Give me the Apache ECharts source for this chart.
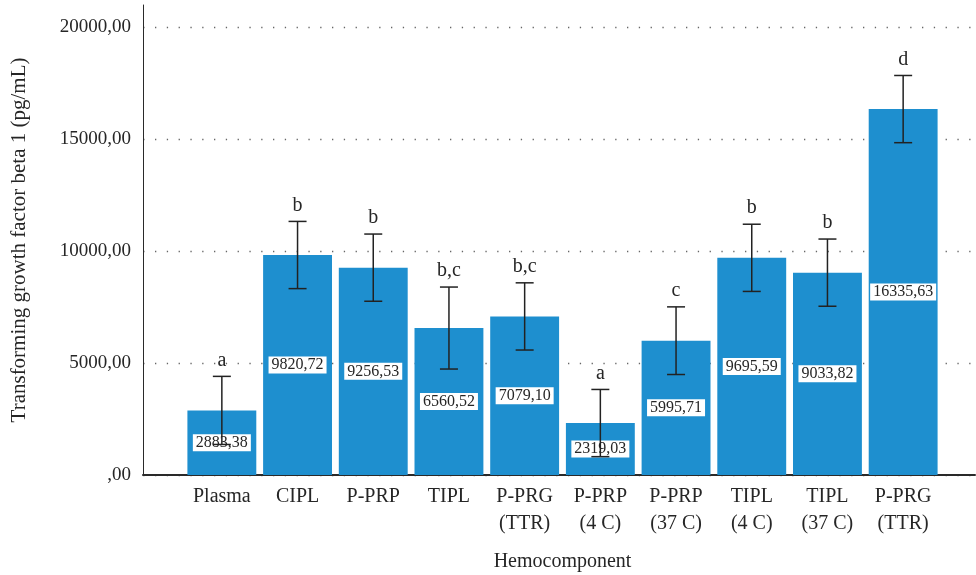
<!DOCTYPE html>
<html><head><meta charset="utf-8">
<script src="https://cdn.jsdelivr.net/npm/echarts@6/dist/echarts.min.js"></script>
<style>html,body{margin:0;padding:0;background:#fff}#c{width:976px;height:575px}</style>
</head><body><div id="c"></div>
<script>
const categories = ['Plasma','CIPL','P-PRP','TIPL','P-PRG\n(TTR)','P-PRP\n(4 C)','P-PRP\n(37 C)','TIPL\n(4 C)','TIPL\n(37 C)','P-PRG\n(TTR)'];
const means = [2883.38, 9820.72, 9256.53, 6560.52, 7079.10, 2319.03, 5995.71, 9695.59, 9033.82, 16335.63];
const errors = [1520, 1500, 1500, 1830, 1500, 1500, 1510, 1500, 1500, 1500];
const letters = ['a','b','b','b,c','b,c','a','c','b','b','d'];
const yMin = 0, yMax = 20000, yStep = 5000;

const FONT = '"Liberation Serif", "DejaVu Serif", serif';
const TXT = '#262626';
const fmt = v => v === 0 ? ',00' : v.toFixed(2).replace('.', ',');

const chart = echarts.init(document.getElementById('c'));
chart.setOption({
  animation: false,
  backgroundColor: '#fff',
  grid: [
    {left: 143, right: 1, top: 5, bottom: 100, outerBoundsMode: 'none', containLabel: false},
    {left: 143, right: 1, top: 27, bottom: 100, outerBoundsMode: 'none', containLabel: false},
    {left: 184, right: 35, top: 27, bottom: 100, outerBoundsMode: 'none', containLabel: false}
  ],
  xAxis: [
    {gridIndex: 0, type: 'value', min: 0, max: 1, axisLine: {show: true, onZero: false, lineStyle: {color: '#2a2a2a', width: 2}}, axisTick: {show: false}, axisLabel: {show: false}, splitLine: {show: false}},
    {gridIndex: 1, type: 'value', min: 0, max: 1, show: false},
    {gridIndex: 2, type: 'category', data: categories,
     axisLine: {show: false}, axisTick: {show: false},
     axisLabel: {fontFamily: FONT, fontSize: 20, color: TXT, lineHeight: 27, margin: 8, interval: 0},
     name: 'Hemocomponent', nameLocation: 'middle', nameGap: 77,
     nameTextStyle: {fontFamily: FONT, fontSize: 20, color: TXT}}
  ],
  yAxis: [
    {gridIndex: 0, type: 'value', min: 0, max: 1, axisLine: {show: true, lineStyle: {color: '#2a2a2a', width: 1}}, axisTick: {show: false}, axisLabel: {show: false}, splitLine: {show: false},
     name: 'Transforming growth factor beta 1 (pg/mL)', nameLocation: 'middle', nameGap: 113,
     nameTextStyle: {fontFamily: FONT, fontSize: 21, color: TXT}},
    {gridIndex: 1, type: 'value', min: yMin, max: yMax, interval: yStep,
     axisLine: {show: false}, axisTick: {show: false},
     axisLabel: {fontFamily: FONT, fontSize: 19, color: TXT, margin: 12, formatter: fmt},
     splitLine: {show: true, lineStyle: {color: '#666', width: 1.3, type: [1.3, 10.5], dashOffset: -12}}},
    {gridIndex: 2, type: 'value', min: yMin, max: yMax, show: false}
  ],
  series: [
    {type: 'bar', xAxisIndex: 2, yAxisIndex: 2, data: means, barCategoryGap: '9%', z: 2,
     itemStyle: {color: '#1e8fcf'},
     label: {show: true, position: 'inside', formatter: p => fmt(p.value),
       fontFamily: FONT, fontSize: 16, color: TXT, backgroundColor: '#fff', padding: [1, 3, 0, 3]}},
    {type: 'custom', xAxisIndex: 2, yAxisIndex: 2, z: 5,
     data: means.map((m, i) => [i, m, errors[i]]),
     renderItem: (params, api) => {
       const i = api.value(0), m = api.value(1), e = api.value(2);
       const hi = api.coord([i, m + e]);
       const lo = api.coord([i, m - e]);
       const cw = 9;
       const st = {stroke: '#222', lineWidth: 1.5};
       return {type: 'group', children: [
         {type: 'line', shape: {x1: hi[0], y1: hi[1], x2: lo[0], y2: lo[1]}, style: st},
         {type: 'line', shape: {x1: hi[0]-cw, y1: hi[1], x2: hi[0]+cw, y2: hi[1]}, style: st},
         {type: 'line', shape: {x1: lo[0]-cw, y1: lo[1], x2: lo[0]+cw, y2: lo[1]}, style: st},
         {type: 'text', x: hi[0], y: hi[1] - 6, style: {text: letters[i], fontFamily: FONT, fontSize: 20, fill: TXT, textAlign: 'center', textVerticalAlign: 'bottom'}}
       ]};
     }}
  ]
});
</script></body></html>
